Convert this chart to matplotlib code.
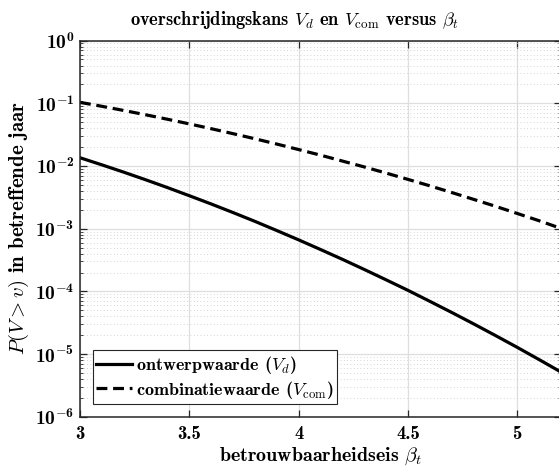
import numpy as np
import matplotlib
matplotlib.use("Agg")
import matplotlib.pyplot as plt
from matplotlib.ticker import (FixedLocator, LogLocator, NullFormatter,
                               MultipleLocator, FuncFormatter)

# betrouwbaarheidseis en bijbehorende overschrijdingskansen
beta_t = [3.0, 3.1, 3.2, 3.3, 3.4, 3.5, 3.6, 3.7, 3.8, 3.9, 4.0, 4.1,
          4.2, 4.3, 4.4, 4.5, 4.6, 4.7, 4.8, 4.9, 5.0, 5.1, 5.2]
p_ontwerp = [1.355e-2, 1.044e-2, 7.98e-3, 6.04e-3, 4.53e-3, 3.36e-3,
             2.48e-3, 1.81e-3, 1.31e-3, 9.35e-4, 6.64e-4, 4.66e-4,
             3.25e-4, 2.24e-4, 1.53e-4, 1.04e-4, 6.95e-5, 4.62e-5,
             3.04e-5, 1.98e-5, 1.28e-5, 8.17e-6, 5.17e-6]
p_combinatie = [1.038e-1, 8.96e-2, 7.69e-2, 6.57e-2, 5.57e-2, 4.70e-2,
                3.94e-2, 3.28e-2, 2.72e-2, 2.24e-2, 1.83e-2, 1.49e-2,
                1.20e-2, 9.67e-3, 7.72e-3, 6.12e-3, 4.83e-3, 3.78e-3,
                2.94e-3, 2.28e-3, 1.75e-3, 1.34e-3, 1.01e-3]
y_decaden = [1e-6, 1e-5, 1e-4, 1e-3, 1e-2, 1e-1, 1e0]

plt.rcParams['font.family'] = 'serif'
plt.rcParams['font.serif'] = ['cmb10']
plt.rcParams['mathtext.fontset'] = 'cm'

asgrijs = '#262626'


def macht_label(v, pos):
    k = int(round(np.log10(v)))
    if k >= 0:
        return r'$\mathdefault{10}^{\mathdefault{%d}}$' % k
    return r'$\mathdefault{10}^{-\mathdefault{%d}}$' % -k


fig = plt.figure(figsize=(5.59, 4.68), dpi=100)
ax = fig.add_axes([0.1431, 0.1094, 0.8605, 0.8038])

ax.semilogy(beta_t, p_ontwerp, color='black', lw=2.3,
            label=r'ontwerpwaarde ($V_d$)')
ax.semilogy(beta_t, p_combinatie, color='black', lw=2.3,
            linestyle=(0, (3.4, 1.8)),
            label=r'combinatiewaarde ($V_{\rm com}$)')

ax.set_xlim(3, 5.2)
ax.set_ylim(1e-6, 1e0)
ax.xaxis.set_major_locator(MultipleLocator(0.5))
ax.xaxis.set_major_formatter(FuncFormatter(lambda v, p: f'{v:g}'))
ax.yaxis.set_major_locator(FixedLocator(y_decaden))
ax.yaxis.set_major_formatter(FuncFormatter(macht_label))
ax.yaxis.set_minor_locator(LogLocator(base=10, subs=np.arange(2, 10), numticks=10))
ax.yaxis.set_minor_formatter(NullFormatter())

ax.grid(True, which='major', color='#dedede', lw=0.9)
ax.grid(True, which='minor', axis='y', color='#c8c8c8', lw=0.6,
        linestyle=(0, (1, 3)))
ax.set_axisbelow(True)

for sp in ax.spines.values():
    sp.set_color(asgrijs)
    sp.set_linewidth(1.1)
ax.tick_params(which='both', direction='in', top=True, right=True,
               colors=asgrijs, labelcolor='black')
ax.tick_params(axis='x', labelsize=13.5, pad=6)
ax.tick_params(axis='y', labelsize=14, pad=4)
ax.tick_params(which='major', length=5, width=0.9)
ax.tick_params(which='minor', length=2.5, width=0.6)

ax.set_title(r'overschrijdingskans $V_d$ en $V_{\rm com}$ versus $\beta_t$',
             fontsize=13.3, pad=11, x=0.447)
ax.set_xlabel(r'betrouwbaarheidseis $\beta_t$', fontsize=14.4, labelpad=1.5)
ax.set_ylabel(r'$P(V>v)$ in betreffende jaar', fontsize=15, labelpad=3)

leg = ax.legend(loc='lower left', fontsize=13, frameon=True, fancybox=False,
                edgecolor=asgrijs, framealpha=1, borderaxespad=0.7,
                handlelength=2.0, handletextpad=0.2, borderpad=0.2,
                labelspacing=0.15)
leg.get_frame().set_linewidth(0.8)

fig.savefig('out.png', dpi=100)
